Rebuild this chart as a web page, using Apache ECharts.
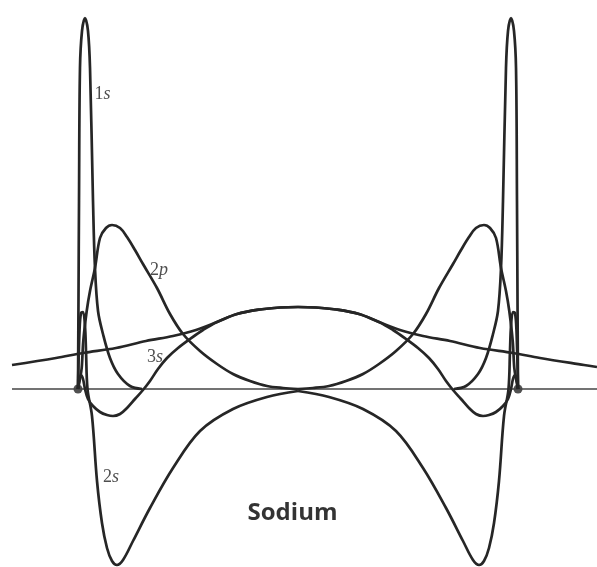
<!DOCTYPE html>
<html>
<head>
<meta charset="utf-8">
<script src="https://cdn.jsdelivr.net/npm/echarts@6/dist/echarts.min.js"></script>
<style>
  html, body { margin: 0; padding: 0; background: #ffffff; }
  #chart { width: 597px; height: 567px; }
</style>
</head>
<body>
<div id="chart"></div>
<script>
// Radial wavefunctions of two neighbouring sodium atoms.
// r is measured from each nucleus, in units where the nuclei are 10 apart.
const separation = 10;

// [r, amplitude] for one atom
const orbital1s = [[0,0],[0.011,0.88],[0.023,1.88],[0.045,3.21],[0.091,3.58],[0.159,3.71],[0.227,3.58],[0.273,3.21],[0.341,1.88],[0.386,1.21],[0.455,0.78],[0.568,0.55],[0.727,0.31],[0.909,0.15],[1.182,0.03],[1.455,0]];
const orbital2s = [[0,0],[0.034,0.58],[0.068,0.76],[0.114,0.77],[0.159,0.63],[0.182,0.38],[0.216,0],[0.318,-0.27],[0.432,-0.92],[0.545,-1.34],[0.659,-1.59],[0.773,-1.72],[0.886,-1.76],[1.023,-1.71],[1.25,-1.52],[1.636,-1.19],[2.159,-0.79],[2.773,-0.42],[3.523,-0.2],[4.295,-0.08],[5,-0.02]];
const orbital2p = [[0,0],[0.045,0.10],[0.084,0.21],[0.12,0.48],[0.198,0.78],[0.273,0.98],[0.386,1.21],[0.5,1.51],[0.636,1.61],[0.773,1.64],[0.955,1.61],[1.114,1.52],[1.295,1.39],[1.477,1.25],[1.795,1.01],[2.091,0.75],[2.386,0.55],[2.773,0.38],[3.159,0.25],[3.523,0.15],[3.909,0.08],[4.295,0.03],[4.659,0.01],[5,0]];
const orbital3s = [[0,0],[0.023,0.08],[0.068,0.14],[0.114,0.10],[0.159,0],[0.227,-0.10],[0.341,-0.17],[0.5,-0.23],[0.659,-0.26],[0.795,-0.27],[0.955,-0.25],[1.114,-0.19],[1.295,-0.10],[1.477,-0.01],[1.636,0.08],[1.818,0.20],[2.023,0.31],[2.273,0.41],[2.545,0.50],[2.841,0.59],[3.159,0.67],[3.614,0.75],[4.136,0.795],[4.591,0.815],[5,0.82],[5.409,0.815],[5.864,0.795],[6.386,0.75],[6.841,0.67],[7.318,0.59],[7.841,0.53],[8.455,0.48],[9.136,0.41],[9.886,0.36],[10.5,0.31],[11.5,0.24],[11.795,0.22]];

// nucleus positions, the r axis extent and the visible reach of each atom
const nuclei = [0, separation];
const axisLine = [[-1.5, 0], [11.8, 0]];
const reachA = 11.8;
const reachB = 11.5;

// curve labels: [text rich-format, r, amplitude]
const curveLabels = [
  ['{n|1}{i|s}', 0.557, 2.95],
  ['{n|2}{i|p}', 1.84, 1.19],
  ['{n|3}{i|s}', 1.75, 0.315],
  ['{n|2}{i|s}', 0.75, -0.885]
];
const titleText = 'Sodium';
const titlePos = [4.875, -1.24];

const ink = '#262626';

function leftAtom(data) {
  return data.filter(p => p[0] <= reachA).map(p => [nuclei[0] + p[0], p[1]]);
}
function rightAtom(data) {
  return data.filter(p => p[0] <= reachB).map(p => [nuclei[1] - p[0], p[1]]);
}

function curve(name, data) {
  return {
    name: name,
    type: 'line',
    data: data,
    symbol: 'none',
    smooth: 0.35,
    silent: true,
    lineStyle: { color: ink, width: 2.7 }
  };
}

const series = [
  {
    type: 'line', data: axisLine, symbol: 'none', silent: true,
    lineStyle: { color: '#444', width: 1.3 }
  }
];
[['1s', orbital1s], ['2s', orbital2s], ['2p', orbital2p], ['3s', orbital3s]].forEach(([n, d]) => {
  series.push(curve(n + ' A', leftAtom(d)));
  series.push(curve(n + ' B', rightAtom(d)));
});
series.push({
  type: 'scatter', silent: true,
  data: nuclei.map(x => [x, 0]),
  symbolSize: 9,
  itemStyle: { color: ink }
});
const serif = 'Liberation Serif';
series.push({
  type: 'scatter', silent: true, symbolSize: 0,
  data: curveLabels.map(l => ({ value: [l[1], l[2]], label: { formatter: l[0] } })),
  label: {
    show: true, position: 'inside',
    rich: {
      n: { fontFamily: serif, fontSize: 18, color: '#222' },
      i: { fontFamily: serif, fontSize: 18, fontStyle: 'italic', color: '#222' }
    }
  }
});
series.push({
  type: 'scatter', silent: true, symbolSize: 0,
  data: [{ value: titlePos }],
  label: {
    show: true, position: 'inside', formatter: titleText,
    fontFamily: 'Open Sans', fontWeight: 'bold', fontSize: 24, color: '#000'
  }
});

const chart = echarts.init(document.getElementById('chart'), null, { renderer: 'canvas' });
chart.setOption({
  animation: false,
  backgroundColor: '#ffffff',
  grid: { left: 0, right: 0, top: 0, bottom: 0 },
  xAxis: { type: 'value', min: -78 / 44, max: 519 / 44, show: false },
  yAxis: { type: 'value', min: -1.78, max: 3.89, show: false },
  series: series
});
</script>
</body>
</html>
